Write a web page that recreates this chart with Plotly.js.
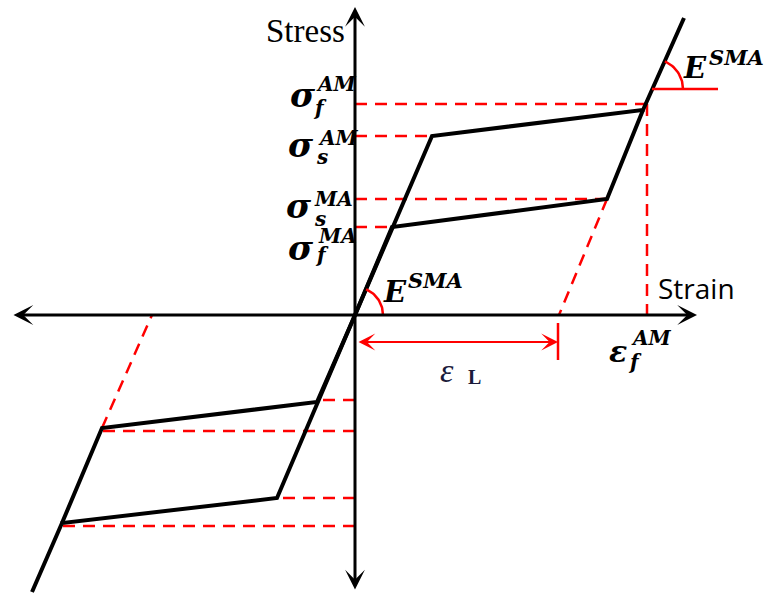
<!DOCTYPE html>
<html>
<head>
<meta charset="utf-8">
<script src="https://cdn.plot.ly/plotly-3.0.1.min.js"></script>
<style>html,body{margin:0;padding:0;background:#fff;}#chart{width:770px;height:594px;}</style>
</head>
<body>
<div id="chart"></div>
<script>
// ---- Data (strain, stress in diagram units, origin at 0,0) ----
const strainLoadUp = [0, 77, 288, 329];
const stressLoadUp = [0, 179, 205, 297];
const strainUnloadUp = [288, 252, 37, 0];
const stressUnloadUp = [205, 116, 88, 0];
const strainLoadDown = [0, -78, -293, -323];
const stressLoadDown = [0, -183, -208, -277];
const strainUnloadDown = [-293, -253, -38, 0];
const stressUnloadDown = [-208, -113, -87, 0];

// guide levels: stress level and the strain where its guide line ends
const guideStress = [211, 179, 116, 88, -85, -116, -183, -211];
const guideStrain = [292, 77, 252, 37, -38, -253, -78, -293];

const strainFinishAM = 292;          // εf^AM
const finishStressAM = 211;          // σf^AM
const residualFrom = [[252, 116], [-253, -113]];
const residualTo = [204, -203];
const epsL = 203;

// axis extents
const axisStrain = [-343, 342];
const axisStress = [-276, 308];

// ---- Styles ----
const RED = '#ff0000';
const BLACK = '#000000';
const dashStyle = {color: RED, width: 2.5, dash: '12px,8px'};
const traces = [];

function line(xs, ys, style) {
  traces.push({x: xs, y: ys, type: 'scatter', mode: 'lines', line: style, hoverinfo: 'skip', showlegend: false});
}

// dashed horizontal guides
for (let i = 0; i < guideStress.length; i++) {
  line([0, guideStrain[i]], [guideStress[i], guideStress[i]], dashStyle);
}
// dashed vertical at εf^AM
line([strainFinishAM, strainFinishAM], [finishStressAM, 0], dashStyle);
// dashed residual (elastic unloading) lines
for (let i = 0; i < residualFrom.length; i++) {
  line([residualFrom[i][0], residualTo[i]], [residualFrom[i][1], 0], dashStyle);
}

// black curves
const curveStyle = {color: BLACK, width: 4, shape: 'linear'};
line(strainLoadUp, stressLoadUp, curveStyle);
line(strainUnloadUp, stressUnloadUp, curveStyle);
line(strainLoadDown, stressLoadDown, curveStyle);
line(strainUnloadDown, stressUnloadDown, curveStyle);

// angle arcs marking the elastic modulus
const theta = Math.atan2(stressLoadUp[1], strainLoadUp[1]);
function arc(cx, cy, r) {
  const xs = [], ys = [];
  for (let k = 0; k <= 24; k++) {
    const a = theta * k / 24;
    xs.push(cx + r * Math.cos(a));
    ys.push(cy + r * Math.sin(a));
  }
  line(xs, ys, {color: RED, width: 2.5});
}
arc(0, 0, 28);
const topCx = 298, topCy = 226;
arc(topCx, topCy, 30);
line([topCx - 1, topCx + 65], [topCy, topCy], {color: RED, width: 2.5});
// εL tick
line([epsL, epsL], [-8, -45], {color: RED, width: 2.5});

// ---- Annotations (axes arrows and labels) ----
const ann = [];
function arrow(x0, y0, x1, y1, color, w, size, both) {
  ann.push({x: x1, y: y1, ax: x0, ay: y0, xref: 'x', yref: 'y', axref: 'x', ayref: 'y',
    text: '', showarrow: true, arrowhead: 3, startarrowhead: 3, arrowsize: size, startarrowsize: size,
    arrowwidth: w, arrowcolor: color, arrowside: both ? 'end+start' : 'end', standoff: 0, startstandoff: 0});
}
arrow(axisStrain[0], 0, axisStrain[1], 0, BLACK, 3, 1.1, true);
arrow(0, axisStress[0], 0, axisStress[1], BLACK, 3, 1.1, true);
arrow(2, -27, epsL, -27, RED, 2, 1.4, true);

const MATH = 'DejaVu Serif';
function txt(text, x, y, size, family, color, xa) {
  ann.push({x: x, y: y, xref: 'x', yref: 'y', text: text, showarrow: false,
    xanchor: xa || 'center', yanchor: 'middle', borderpad: 0,
    font: {family: family || MATH, size: size, color: color || BLACK}});
}
function math(base, sup, sub, p, baseSize, smallSize) {
  // p: [baseRightX, baseY, supLeftX, supY, subLeftX, subY]
  txt('<b><i>' + base + '</i></b>', p[0], p[1], baseSize, MATH, BLACK, 'right');
  if (sup) txt('<b><i>' + sup + '</i></b>', p[2], p[3], smallSize, MATH, BLACK, 'left');
  if (sub) txt('<b><i>' + sub + '</i></b>', p[4], p[5], smallSize, MATH, BLACK, 'left');
}
math('σ', 'AM', 'f', [-38, 220, -40, 231, -43, 207], 34, 20);
math('σ', 'AM', 's', [-40, 170, -38, 177, -40, 158.5], 34, 20);
math('σ', 'MA', 's', [-42, 109, -42, 116.5, -42, 96], 34, 20);
math('σ', 'MA', 'f', [-40, 67, -38, 79, -41, 60], 34, 20);
math('ε', 'AM', 'f', [273, -36, 275, -23, 272, -47], 30, 20);
math('E', 'SMA', '', [53, 23, 52, 34.5], 29, 21);
math('E', 'SMA', '', [353, 247.5, 353, 257.5], 29, 21);
txt('<i>ε</i>', 92, -55, 34, 'Liberation Serif', '#1a1a3a');
txt('<b>L</b>', 119, -62, 20, 'Liberation Serif', '#1a1a3a');
txt('Stress', -50, 284, 33, 'Liberation Serif');
txt('Strain', 341, 27, 28, 'Open Sans');

const layout = {
  width: 770, height: 594,
  margin: {l: 0, r: 0, t: 0, b: 0, pad: 0},
  paper_bgcolor: '#ffffff', plot_bgcolor: '#ffffff',
  showlegend: false,
  xaxis: {range: [-355, 415], visible: false, fixedrange: true},
  yaxis: {range: [-279, 315], visible: false, fixedrange: true},
  annotations: ann
};
Plotly.newPlot('chart', traces, layout, {staticPlot: true, displayModeBar: false});
</script>
</body>
</html>
